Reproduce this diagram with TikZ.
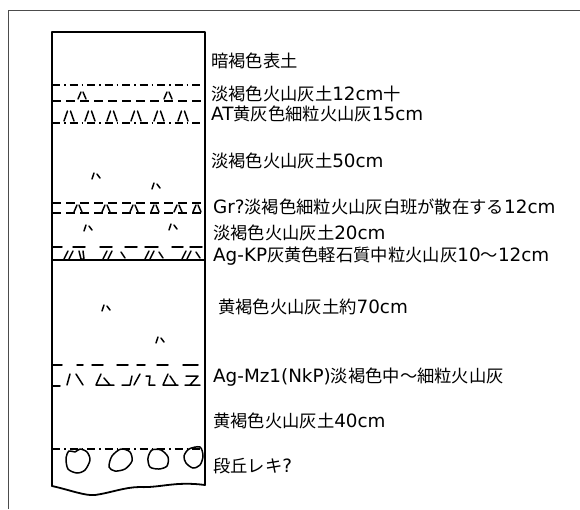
\documentclass[tikz,border=0pt]{standalone}
\usepackage{fontspec}
\setmainfont{Noto Sans CJK JP}
\newfontfamily\lt{DejaVu Sans}[Scale=1.06]
\begin{document}
\begin{tikzpicture}[x=1pt,y=-1pt,
  frame/.style={draw=black!70,line width=0.8pt},
  wall/.style={line width=1.8pt,line cap=round,line join=round},
  bed/.style={line width=1.6pt,dash pattern=on 8pt off 4pt on 1.5pt off 4pt},
  shortbed/.style={line width=1.6pt,dash pattern=on 9pt off 5pt},
  mk/.style={line width=1.5pt,line cap=round,line join=round},
  lbl/.style={anchor=west,inner sep=0pt,font=\fontsize{17.3}{18}\selectfont,text=black}]
\useasboundingbox (0,0) rectangle (580,509);
% outer frame
\draw[frame] (8,509) -- (8,10) -- (580,10);
% column outline
\draw[wall] (52,486) -- (52,32) -- (205,32) -- (205,485);
\draw[wall] (52,486) .. controls (70,490) and (85,496) .. (95,495)
  .. controls (110,493) and (125,487) .. (140,487)
  .. controls (160,488) and (175,481) .. (205,485);
% 12cm layer and AT ash
\draw[bed] (52,85) -- (205,85);
\draw[shortbed] (52,101) -- (205,101);
\foreach \x in {82,168}{
  \draw[mk] (\x-4,99) -- (\x-1,92) (\x+1,92) -- (\x+4,99);}
\foreach \x in {69,90,112,136,159,183}{
  \draw[mk] (\x-5,121) -- (\x-1.5,111) (\x+1.5,111) -- (\x+5,121);}
\draw[bed] (52,123) -- (205,123);
% Gr? layer
\draw[shortbed] (52,203) -- (205,203);
\draw[shortbed] (52,213) -- (205,213);
\foreach \x in {78,106,134,155,178,197}{
  \draw[mk] (\x-4,212) -- (\x-1,205) (\x+1,205) -- (\x+4,212);}
% Ag-KP layer
\foreach \a/\b in {52/62,73/85,100/112,125/137,145/158,172/183,190/202}{
  \draw[mk] (\a,247) -- (\b,247);}
\foreach \x in {64,69,103,108,145,150,182,187}{
  \draw[mk] (\x,259) -- (\x+4,251);}
\foreach \x in {121,159,196}{
  \draw[mk] (\x,252) -- (\x+4,258);}
\draw[mk] (79,251) -- (81,259) -- (84,259) -- (83,251);
\draw[wall] (52,260) -- (205,260);
% Ag-Mz1 layer
\foreach \a/\b in {52/62,77/83,92/103,117/128,137/145,157/168,183/198}{
  \draw[mk] (\a,365) -- (\b,365);}
\draw[mk] (67,385) -- (70,374) (76,374) -- (83,385);
\draw[mk] (96,385) -- (101,374) (104,378) -- (110,385) (96,385) -- (114,385);
\draw[mk] (122,385) -- (130,385) -- (132,376) (134,385) -- (140,374);
\draw[mk] (146,376) -- (150,376) -- (149,385) -- (155,385);
\draw[mk] (163,385) -- (168,374) (170,376) -- (176,385) (163,385) -- (178,385);
\draw[mk] (186,376) -- (198,376) -- (190,385) (185,385) -- (200,385);
\draw[mk] (52,386) -- (60,386);
% scattered marks in the soils
\foreach \x/\y in {96/176,156/186,88/228,173/227,106/308,160/340}{
  \draw[mk] (\x-4,\y+3) -- (\x-2,\y-3) (\x+1,\y-2) -- (\x+4,\y+2);}
% terrace gravel
\draw[bed] (52,449) -- (205,449);
\draw[mk] plot[smooth cycle] coordinates {(66,458)(69,451)(75,452)(80,449)(87,452)(90,460)(85,470)(77,473)(68,469)};
\draw[mk] plot[smooth cycle] coordinates {(109,467)(112,456)(121,449)(130,452)(132,461)(125,469)(115,471)};
\draw[mk] plot[smooth cycle] coordinates {(148,458)(152,450)(161,450)(168,457)(167,466)(159,469)(150,467)};
\draw[mk] plot[smooth cycle] coordinates {(184,456)(189,449)(200,447)(203,456)(200,465)(193,468)(186,463)};
% labels
\node[lbl] (t1) at (211,61) {暗褐色表土};
\node[lbl] (t2) at (211,94) {淡褐色火山灰土{\lt 12cm}十};
\node[lbl] (t3) at (211,114) {{\lt AT}黄灰色細粒火山灰{\lt 15cm}};
\node[lbl] (t4) at (211,161) {淡褐色火山灰土{\lt 50cm}};
\node[lbl] (t5) at (213,207) {{\lt Gr?}淡褐色細粒火山灰白班が散在する{\lt 12cm}};
\node[lbl] (t6) at (213,233) {淡褐色火山灰土{\lt 20cm}};
\node[lbl] (t7) at (213,256) {{\lt Ag-KP}灰黄色軽石質中粒火山灰{\lt 10}〜{\lt 12cm}};
\node[lbl] (t8) at (218,307) {黄褐色火山灰土約{\lt 70cm}};
\node[lbl] (t9) at (213,377) {{\lt Ag-Mz1(NkP)}淡褐色中〜細粒火山灰};
\node[lbl] (t10) at (213,421) {黄褐色火山灰土{\lt 40cm}};
\node[lbl] (t11) at (213,466) {段丘レキ{\lt ?}};
\end{tikzpicture}
\end{document}
